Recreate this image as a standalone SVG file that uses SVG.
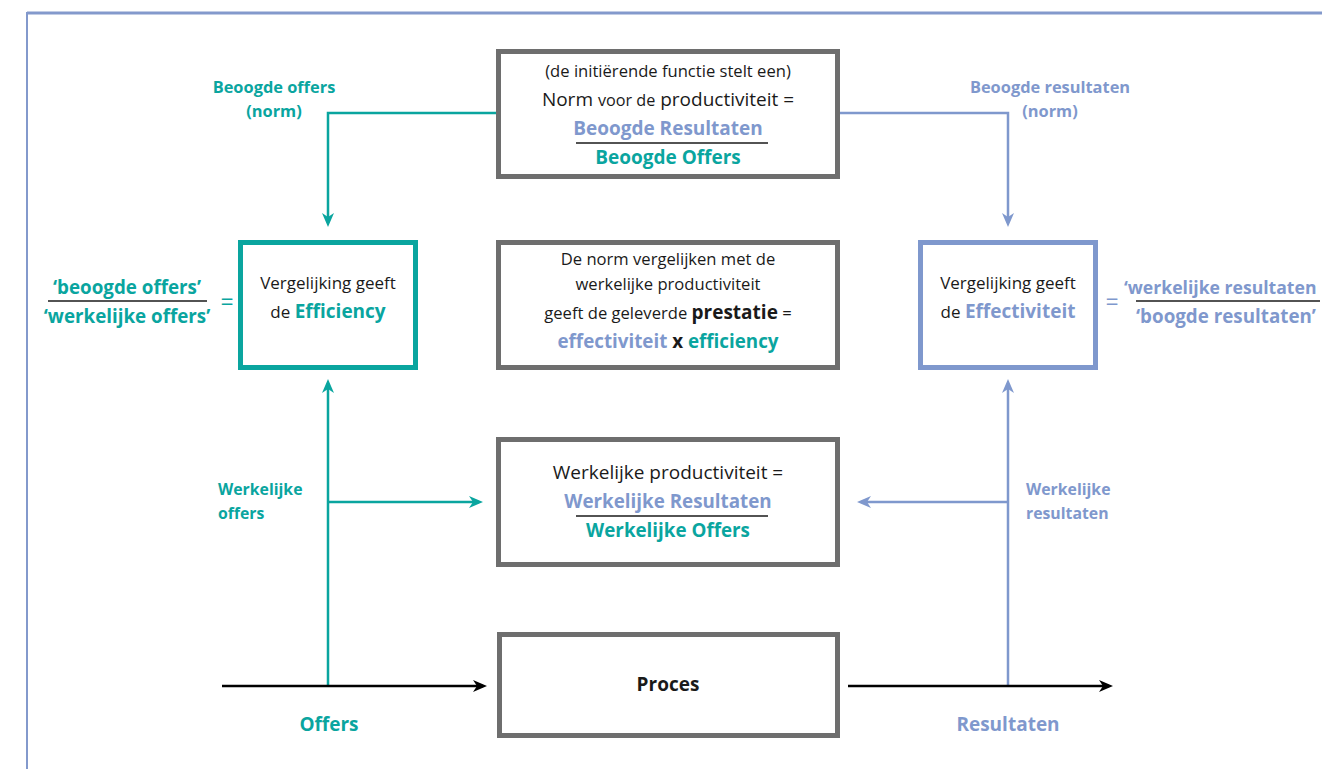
<svg xmlns="http://www.w3.org/2000/svg" width="1322" height="769" viewBox="0 0 1322 769">
  <style>
    text { font-family: "Open Sans", "Noto Sans", "Liberation Sans", sans-serif; fill: #1a1a1a; }
    .c { text-anchor: middle; }
    .b { font-weight: bold; }
    .teal { fill: #0aa59f; }
    .blue { fill: #7f98cd; }
    .box { fill: #ffffff; stroke: #6e6e6e; stroke-width: 5; }
    .tbox { fill: #ffffff; stroke: #0aa59f; stroke-width: 5; }
    .bbox { fill: #ffffff; stroke: #7f98cd; stroke-width: 5; }
    .frac { stroke: #1a1a1a; stroke-width: 1.6; }
    .lt { fill: none; stroke: #0aa59f; stroke-width: 2.5; }
    .lb { fill: none; stroke: #7f98cd; stroke-width: 2.5; }
    .lk { fill: none; stroke: #000000; stroke-width: 2.5; }
  </style>
  <defs>
    <marker id="arrT" viewBox="0 0 14 12" refX="10" refY="6" markerWidth="14" markerHeight="12" markerUnits="userSpaceOnUse" orient="auto">
      <path d="M0,0 L14,6 L0,12 L4,6 Z" fill="#0aa59f"/>
    </marker>
    <marker id="arrB" viewBox="0 0 14 12" refX="10" refY="6" markerWidth="14" markerHeight="12" markerUnits="userSpaceOnUse" orient="auto">
      <path d="M0,0 L14,6 L0,12 L4,6 Z" fill="#7f98cd"/>
    </marker>
    <marker id="arrK" viewBox="0 0 14 12" refX="10" refY="6" markerWidth="14" markerHeight="12" markerUnits="userSpaceOnUse" orient="auto">
      <path d="M0,0 L14,6 L0,12 L4,6 Z" fill="#000000"/>
    </marker>
  </defs>

  <!-- page frame -->
  <g id="frame">
    <line x1="27" y1="13" x2="1322" y2="13" stroke="#8399cc" stroke-width="3"/>
    <line x1="27" y1="12" x2="27" y2="769" stroke="#8399cc" stroke-width="2"/>
  </g>

  <!-- connectors -->
  <g id="connectors">
    <path class="lt" d="M496,113 H328 V223" marker-end="url(#arrT)"/>
    <path class="lb" d="M840,113 H1008 V223" marker-end="url(#arrB)"/>
    <path class="lt" d="M328,686 V383" marker-end="url(#arrT)"/>
    <path class="lt" d="M328,502 H479" marker-end="url(#arrT)"/>
    <path class="lb" d="M1008,686 V383" marker-end="url(#arrB)"/>
    <path class="lb" d="M1008,502 H861" marker-end="url(#arrB)"/>
    <path class="lk" d="M222,686 H483" marker-end="url(#arrK)"/>
    <path class="lk" d="M848,686 H1109" marker-end="url(#arrK)"/>
  </g>

  <!-- norm box -->
  <g id="norm">
    <rect class="box" x="498.5" y="51.5" width="339" height="125"/>
    <text class="c" x="668" y="77" font-size="16.6">(de initiërende functie stelt een)</text>
    <text class="c" x="668" y="106" font-size="19">Norm <tspan font-size="16.2">voor de</tspan> productiviteit =</text>
    <text class="c b blue" x="668" y="135" font-size="19">Beoogde Resultaten</text>
    <line class="frac" x1="576" y1="143" x2="768" y2="143"/>
    <text class="c b teal" x="668" y="164" font-size="19">Beoogde Offers</text>
  </g>

  <!-- efficiency box -->
  <g id="efficiency">
    <rect class="tbox" x="240.5" y="242.5" width="175" height="125"/>
    <text class="c" x="328" y="289" font-size="17">Vergelijking geeft</text>
    <text class="c" x="328" y="318" font-size="17">de <tspan class="b teal" font-size="19">Efficiency</tspan></text>
  </g>

  <!-- performance box -->
  <g id="prestatie">
    <rect class="box" x="498.5" y="242.5" width="339" height="125"/>
    <text class="c" x="668" y="265" font-size="16.6">De norm vergelijken met de</text>
    <text class="c" x="668" y="290" font-size="16.6">werkelijke productiviteit</text>
    <text class="c" x="668" y="319" font-size="16.6">geeft de geleverde <tspan class="b" font-size="19">prestatie</tspan> =</text>
    <text class="c b" x="668" y="348" font-size="18.8"><tspan class="blue">effectiviteit</tspan> x <tspan class="teal">efficiency</tspan></text>
  </g>

  <!-- effectiveness box -->
  <g id="effectiviteit">
    <rect class="bbox" x="920.5" y="242.5" width="175" height="125"/>
    <text class="c" x="1008" y="289" font-size="17">Vergelijking geeft</text>
    <text class="c" x="1008" y="318" font-size="17">de <tspan class="b blue" font-size="19">Effectiviteit</tspan></text>
  </g>

  <!-- efficiency ratio -->
  <g id="efficiency-ratio">
    <text class="c b teal" x="127" y="294" font-size="18.8">‘beoogde offers’</text>
    <line class="frac" x1="48" y1="301" x2="207" y2="301"/>
    <text class="c b teal" x="127" y="323" font-size="18.8">‘werkelijke offers’</text>
    <text class="c teal" x="227" y="310" font-size="23">=</text>
  </g>

  <!-- effectiveness ratio -->
  <g id="effectiveness-ratio">
    <text class="c blue" x="1112" y="310" font-size="23">=</text>
    <text class="b blue" x="1124" y="294" font-size="17.6">‘werkelijke resultaten</text>
    <line class="frac" x1="1136" y1="301" x2="1320" y2="301"/>
    <text class="c b blue" x="1226" y="323" font-size="18.8">‘boogde resultaten’</text>
  </g>

  <!-- actual productivity box -->
  <g id="werkelijk">
    <rect class="box" x="498.5" y="439.5" width="339" height="125"/>
    <text class="c" x="668" y="479" font-size="19">Werkelijke productiviteit =</text>
    <text class="c b blue" x="668" y="508" font-size="18.8">Werkelijke Resultaten</text>
    <line class="frac" x1="576" y1="516" x2="768" y2="516"/>
    <text class="c b teal" x="668" y="537" font-size="18.8">Werkelijke Offers</text>
  </g>

  <!-- process box -->
  <g id="proces">
    <rect class="box" x="499.5" y="634.5" width="338" height="101"/>
    <text class="c b" x="668" y="691" font-size="19">Proces</text>
  </g>

  <!-- flow labels -->
  <g id="labels">
    <text class="c b teal" x="274" y="93" font-size="16.4">Beoogde offers</text>
    <text class="c b teal" x="274" y="117" font-size="16.4">(norm)</text>
    <text class="c b blue" x="1050" y="93" font-size="16.4">Beoogde resultaten</text>
    <text class="c b blue" x="1050" y="117" font-size="16.4">(norm)</text>
    <text class="b teal" x="218" y="495" font-size="15.8">Werkelijke</text>
    <text class="b teal" x="218" y="519" font-size="15.8">offers</text>
    <text class="b blue" x="1026" y="495" font-size="15.8">Werkelijke</text>
    <text class="b blue" x="1026" y="519" font-size="15.8">resultaten</text>
    <text class="c b teal" x="329" y="731" font-size="19">Offers</text>
    <text class="c b blue" x="1008" y="731" font-size="19">Resultaten</text>
  </g>
</svg>
